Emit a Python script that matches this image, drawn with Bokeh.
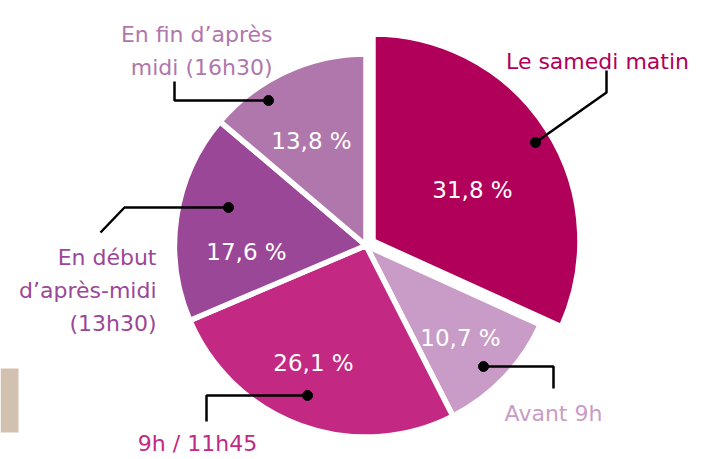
import numpy as np
from bokeh.plotting import figure
from bokeh.models import Range1d
from bokeh.embed import file_html
from bokeh.resources import INLINE
from bokeh.core.properties import value

# ---------------- data ----------------
categories = ["Le samedi matin", "Avant 9h", "9h / 11h45",
              "En début d’après-midi (13h30)", "En fin d’après midi (16h30)"]
shares = [31.8, 10.7, 26.1, 17.6, 13.8]
label_lines = [["Le samedi matin"], ["Avant 9h"], ["9h / 11h45"],
               ["En début", "d’après-midi", "(13h30)"],
               ["En fin d’après", "midi (16h30)"]]

# ---------------- style ----------------
colors = ["#b1005a", "#c99cc7", "#c32882", "#9b4798", "#b077ad"]
radii = [207, 191.5, 191.5, 191.5, 191.5]
explode = [8.3, 0, 0, 0, 0]
cx0, cy0 = 365.5, -245.0
FONT = "DejaVu Sans"
W, H = 703, 459

# percent label positions (image px, baseline)
pct_pos = [(472, 189), (460, 337), (313, 362), (246, 251), (311, 140)]
# label anchors: (x, first baseline, align)
lab_pos = [(597, 61, "center"), (553, 413, "center"), (197, 443, "center"),
           (156, 257, "right"), (272, 34, "right")]
line_step = 33
# leader lines (image px); first point is the dot
leaders = [[(535, 142), (606, 92), (606, 70)],
           [(483, 366), (553, 366), (553, 388)],
           [(307, 395), (206, 395), (206, 421)],
           [(228, 207), (124, 207), (100, 232)],
           [(268, 100), (174, 100), (174, 81)]]

p = figure(width=W, height=H, output_backend="svg", toolbar_location=None,
           x_range=Range1d(0, W), y_range=Range1d(-H, 0),
           x_axis_type=None, y_axis_type=None, min_border=0)
p.outline_line_color = None
p.grid.visible = False
p.background_fill_color = "white"

# beige decorative block at left
p.quad(left=[0], right=[18], top=[-368], bottom=[-432], color="#d2c1ae", line_color=None)

cum = np.concatenate([[0], np.cumsum(shares)]) / 100.0 * 2 * np.pi
t0, t1 = cum[:-1], cum[1:]
mid = (t0 + t1) / 2
xs = [cx0 + e * np.sin(m) for e, m in zip(explode, mid)]
ys = [cy0 + e * np.cos(m) for e, m in zip(explode, mid)]
p.wedge(x=xs, y=ys, radius=radii,
        start_angle=list(np.pi / 2 - t1), end_angle=list(np.pi / 2 - t0),
        fill_color=colors, line_color="white", line_width=5.5)

pct_text = [f"{v:.1f}".replace(".", ",") + " %" for v in shares]
p.text(x=[q[0] for q in pct_pos], y=[-q[1] for q in pct_pos], text=pct_text,
       text_font=value(FONT), text_font_size="23px", text_color="white",
       text_align="center", text_baseline="alphabetic")

# leader lines and dots
p.multi_line(xs=[[pt[0] for pt in L] for L in leaders],
             ys=[[-pt[1] for pt in L] for L in leaders],
             line_color="black", line_width=2.5)
p.scatter(x=[L[0][0] for L in leaders], y=[-L[0][1] for L in leaders],
          size=10, color="black")

for lines, (lx, ly, al), col in zip(label_lines, lab_pos, colors):
    p.text(x=[lx] * len(lines), y=[-(ly + i * line_step) for i in range(len(lines))],
           text=lines, text_font=value(FONT), text_font_size="22px",
           text_color=col, text_align=al, text_baseline="alphabetic")

open("out.html", "w").write(file_html(p, INLINE))
